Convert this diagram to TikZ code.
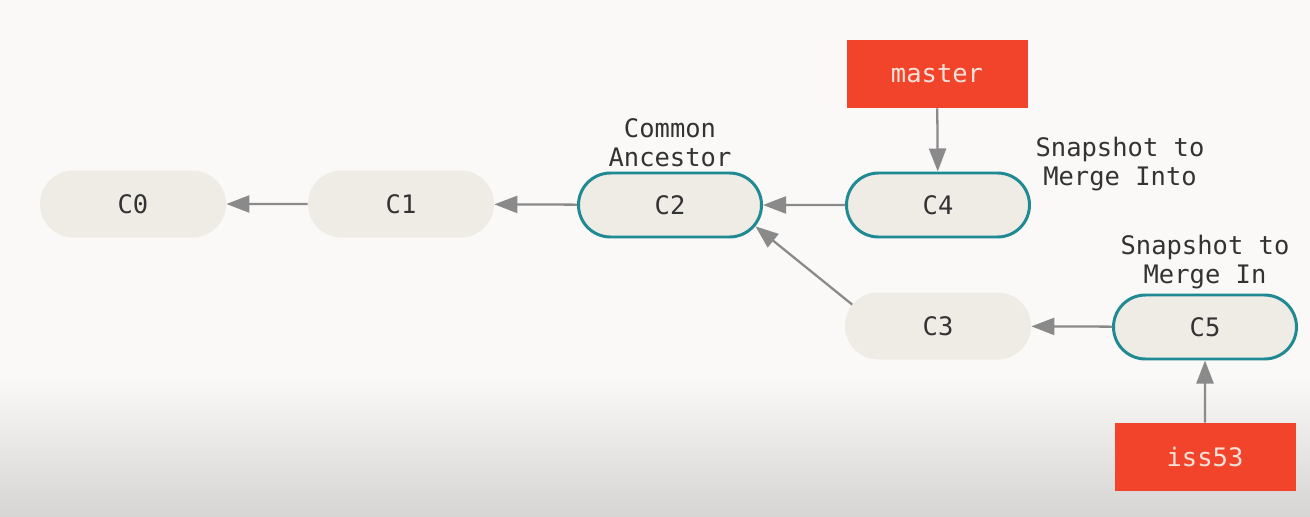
\documentclass[tikz,border=0pt]{standalone}
\usepackage{fontspec}
\setmonofont{DejaVu Sans Mono}
\usetikzlibrary{arrows.meta,shapes.misc,positioning}
\definecolor{bgpaper}{HTML}{FAF9F7}
\definecolor{bgfloor}{HTML}{D6D5D3}
\definecolor{commitfill}{HTML}{EFECE6}
\definecolor{tealline}{HTML}{1F8A93}
\definecolor{branchred}{HTML}{F1442A}
\definecolor{branchtext}{HTML}{F6E2DA}
\definecolor{arrowgray}{HTML}{8A8A8A}
\definecolor{textgray}{HTML}{333333}

\tikzset{
  commit/.style={rounded rectangle, fill=commitfill, draw=none, minimum width=3.72cm,
    minimum height=1.34cm, inner sep=0pt, text=textgray,
    font=\ttfamily\fontsize{14.5}{16.5}\selectfont},
  snapshot/.style={commit, draw=tealline, line width=1.7pt, minimum width=3.66cm, minimum height=1.28cm},
  branch/.style={rectangle, fill=branchred, minimum width=3.62cm, minimum height=1.36cm,
    inner sep=0pt, text=branchtext, font=\ttfamily\fontsize{14.5}{16.5}\selectfont},
  note/.style={align=center, text=textgray, inner sep=0pt,
    font=\ttfamily\fontsize{14.5}{16.5}\selectfont},
  parent/.style={draw=arrowgray, line width=1.3pt, -{Triangle[length=0.46cm,width=0.34cm]}}
}

\begin{document}
\begin{tikzpicture}
%Background
\fill[bgpaper] (0,0) rectangle (26.2,10.32);
\shade[top color=bgpaper, bottom color=bgfloor] (0,0) rectangle (26.2,2.78);
\useasboundingbox (0,0) rectangle (26.2,10.32);

%Commits
\node[commit] (c0) at (2.66,6.24) {C0};
\node[commit] (c1) at (8.02,6.24) {C1};
\node[snapshot] (c2) at (13.40,6.22) {C2};
\node[snapshot] (c4) at (18.76,6.22) {C4};
\node[commit] (c3) at (18.76,3.80) {C3};
\node[snapshot] (c5) at (24.10,3.78) {C5};

%Branches
\node[branch] (master) at (18.74,8.84) {master};
\node[branch] (iss53) at (24.10,1.18) {iss53};

%Notes
\node[note] (ancestor) at (13.40,7.46) {Common\\Ancestor};
\node[note] (into) at (22.40,7.03) {Snapshot to\\Merge Into};
\node[note] (in) at (24.10,5.08) {Snapshot to\\Merge In};

%Parents
\draw[parent] (c1) -- (c0);
\draw[parent] (c2) -- (c1);
\draw[parent] (c4) -- (c2);
\draw[parent] (c3.166) -- (c2.-14);
\draw[parent] (c5) -- (c3);
\draw[parent] (master) -- (c4);
\draw[parent] (iss53) -- (c5);
\end{tikzpicture}
\end{document}
